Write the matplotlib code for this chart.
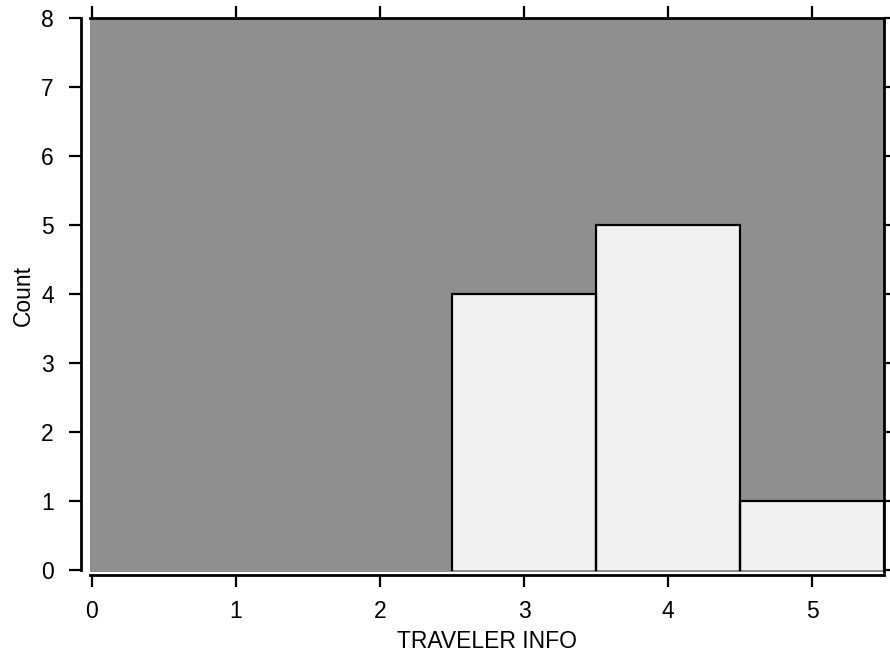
import numpy as np
import matplotlib
matplotlib.use("Agg")
import matplotlib.pyplot as plt

# histogram values
bins = [3, 4, 5]
counts = [4, 5, 1]
xticks = [0, 1, 2, 3, 4, 5]
yticks = [0, 1, 2, 3, 4, 5, 6, 7, 8]

plt.rcParams['font.family'] = ['Liberation Sans', 'DejaVu Sans']

fig = plt.figure(figsize=(8.9, 6.58), dpi=100)
ax = fig.add_axes([90/890, (658-572)/658, 794/890, 554/658])
ax.set_facecolor('#8f8f8f')

ax.bar(bins, counts, width=1.0, color='#f1f1f1', linewidth=0, zorder=2)
# outlines without the bottom edge, like the original
for b, c in zip(bins, counts):
    ax.plot([b - 0.5, b - 0.5, b + 0.5, b + 0.5], [0, c, c, 0],
            color='black', lw=1.6, solid_joinstyle='miter', zorder=3)

ax.set_xlim(-2/144, 5.5)
ax.set_ylim(-2/69, 8)
ax.set_xticks(xticks)
ax.set_yticks(yticks)

for s in ['left', 'right', 'top', 'bottom']:
    ax.spines[s].set_linewidth(2)
    ax.spines[s].set_zorder(5)
ax.spines['left'].set_position(('outward', 6.5))
ax.spines['left'].set_bounds(0, 8)
ax.spines['bottom'].set_position(('outward', 2.2))

ax.tick_params(axis='both', which='major', direction='out', length=8.5, width=1.6,
               labelsize=16.5, top=True, right=True, labeltop=False, labelright=False)
ax.tick_params(axis='x', pad=9.5)
ax.tick_params(axis='y', pad=11)

ax.set_xlabel('TRAVELER INFO', fontsize=16.5)
ax.set_ylabel('Count', fontsize=16.5)
ax.xaxis.set_label_coords(0.5, -0.105)
ax.yaxis.set_label_coords((35 - 90) / 794, 0.5)

fig.savefig('out.png', dpi=100)
